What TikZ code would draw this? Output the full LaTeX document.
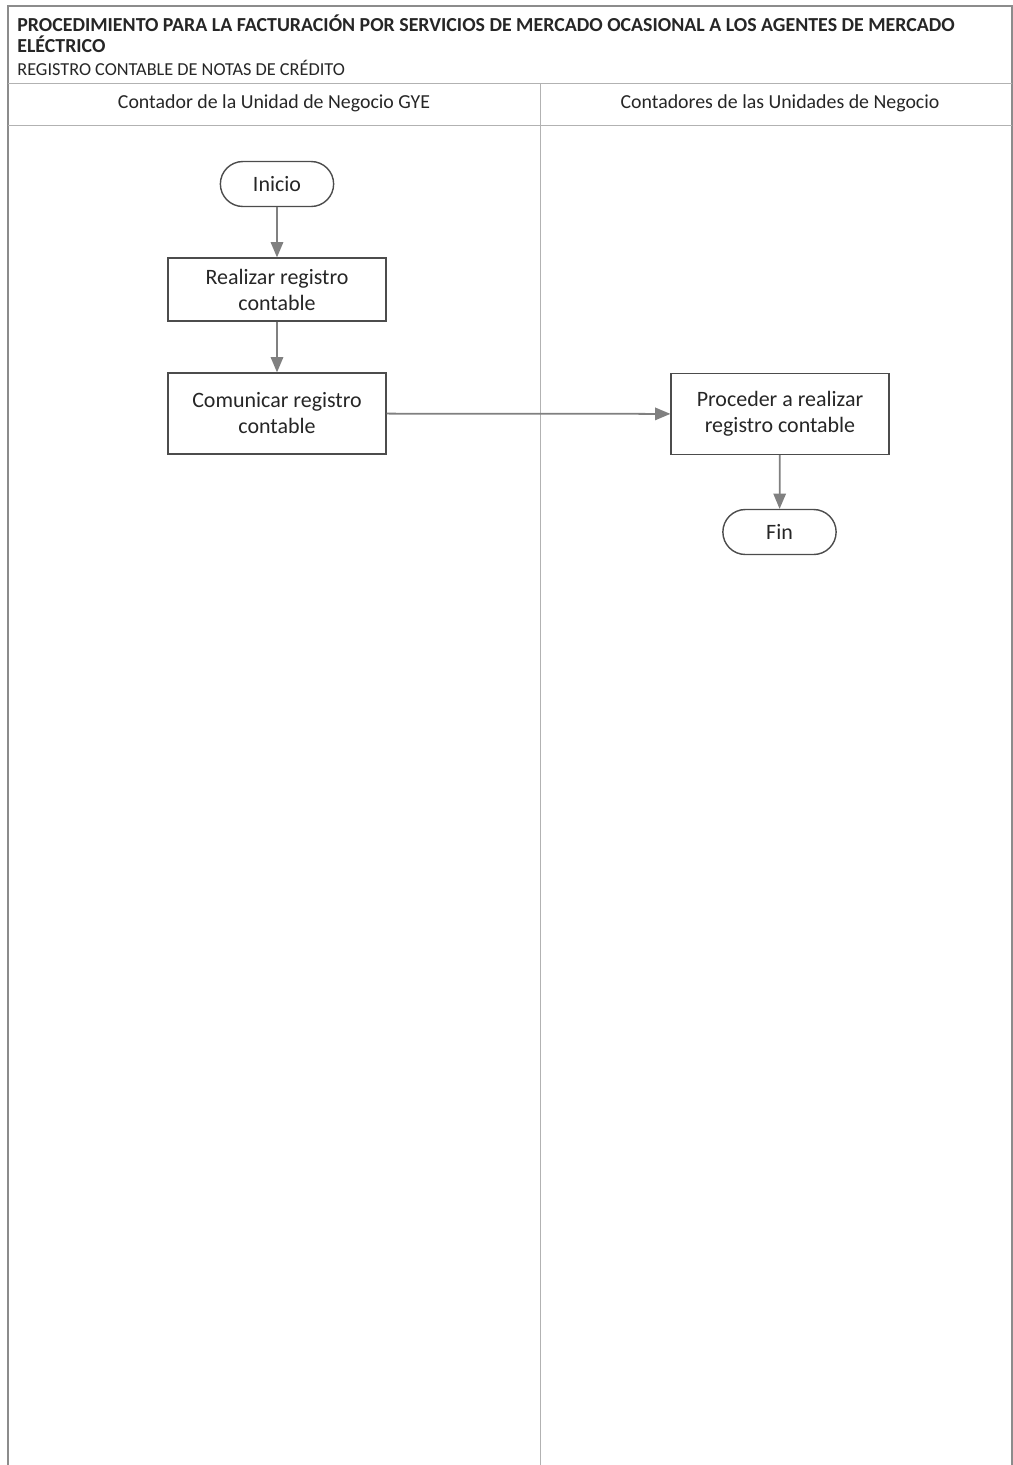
\documentclass[tikz,border=0pt]{standalone}
\usepackage{fontspec}
\setmainfont{Carlito}
\usepackage{tikz}
\usetikzlibrary{arrows, shapes}

\begin{document}
\begin{tikzpicture}[x=0.02cm, y=-0.02cm, >=triangle 45]
\tikzstyle{every node}=[font=\fontsize{12.5}{14.8}\selectfont, text=black!85];
\tikzstyle{frame}=[draw=black!45, line width=0.6pt];
\tikzstyle{lane}=[draw=black!30, line width=0.5pt];
\tikzstyle{terminal}=[draw=black!70, rounded rectangle, minimum width=2.5cm, minimum height=0.9cm, line width=0.8pt];
\tikzstyle{activity}=[draw=black!70, rectangle, minimum width=4.36cm, align=center, line width=0.8pt];
\tikzstyle{flow}=[->, draw=black!50, line width=1pt];
\useasboundingbox (0,0) rectangle (1013,1465);
% marco y carriles
\draw[frame] (8,1465) -- (8,6) -- (1013,6);
\draw[frame] (1012,6) -- (1012,1465);
\draw[lane] (8,83) -- (1012,83);
\draw[lane] (8,125) -- (1012,125);
\draw[lane] (540,83) -- (540,1465);
\node[anchor=west, font=\fontsize{11.3}{12}\selectfont\bfseries, align=left, inner sep=0pt] (titulo) at (17,33.5)
  {PROCEDIMIENTO PARA LA FACTURACIÓN POR SERVICIOS DE MERCADO OCASIONAL A LOS AGENTES DE MERCADO\\ELÉCTRICO};
\node[anchor=west, font=\fontsize{10.4}{12}\selectfont, inner sep=0pt] (subtitulo) at (17,68) {REGISTRO CONTABLE DE NOTAS DE CRÉDITO};
\node[font=\fontsize{11.3}{13.5}\selectfont] (carril1) at (274,103) {Contador de la Unidad de Negocio GYE};
\node[font=\fontsize{11.3}{13.5}\selectfont] (carril2) at (780,103) {Contadores de las Unidades de Negocio};
% nodos
\node[terminal] (inicio) at (277,184) {Inicio};
\node[activity, minimum height=1.26cm] (realizar) at (277,289.5) {Realizar registro\\contable};
\node[activity, minimum height=1.62cm] (comunicar) at (277,413.5) {Comunicar registro\\contable};
\node[activity, minimum height=1.62cm] (proceder) at (780,414) {Proceder a realizar\\registro contable};
\node[terminal] (fin) at (779.5,532) {Fin};
\draw [flow] (inicio) -- (realizar);
\draw [flow] (realizar) -- (comunicar);
\draw [flow] (comunicar) -- (proceder);
\draw [flow] (proceder) -- (fin);
\end{tikzpicture}
\end{document}
